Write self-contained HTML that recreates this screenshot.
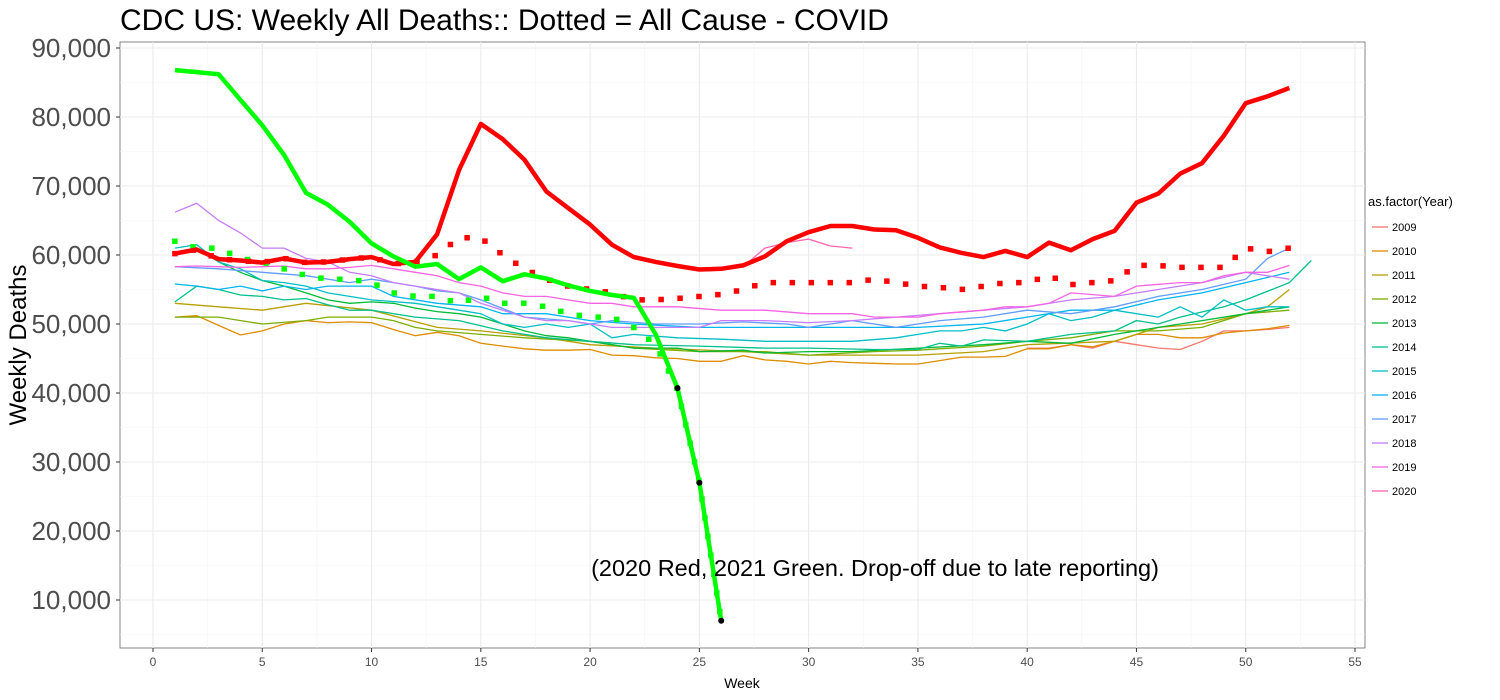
<!DOCTYPE html>
<html><head><meta charset="utf-8"><style>
body{margin:0;background:#fff;}
svg{display:block;font-family:"Liberation Sans",sans-serif;}
</style></head><body>
<svg id="chart" width="1500" height="700">
<text x="120" y="30" font-size="30" fill="#000">CDC US: Weekly All Deaths:: Dotted = All Cause - COVID</text>
<rect x="120" y="42" width="1245" height="606" fill="#fff" stroke="#666" stroke-width="0.8"/>
<g id="grid"></g>
<g id="series"></g>
<text x="26" y="345" font-size="24" transform="rotate(-90 26 345)" text-anchor="middle">Weekly Deaths</text>
<text x="742" y="688" font-size="14" text-anchor="middle">Week</text>
<text x="875" y="576" font-size="23.5" text-anchor="middle">(2020 Red, 2021 Green. Drop-off due to late reporting)</text>
<text x="1368" y="206" font-size="13">as.factor(Year)</text>
<g id="legend"></g>
</svg>
<script>
const yTicks=[10000,20000,30000,40000,50000,60000,70000,80000,90000];
const xTicks=[0,5,10,15,20,25,30,35,40,45,50,55];
const years=["2009","2010","2011","2012","2013","2014","2015","2016","2017","2018","2019","2020"];
const colors=["#F8766D","#DE8C00","#B79F00","#7CAE00","#00BA38","#00C08B","#00BFC4","#00B4F0","#619CFF","#C77CFF","#F564E3","#FF64B0"];
// [week, deaths] keypoints per year
const y2009=[[40,46500],[41,46500],[42,47000],[43,46500],[44,47500],[45,47000],[46,46500],[47,46300],[48,47500],[49,49000],[50,49000],[51,49200],[52,49500]];
const y2010=[[1,51000],[2,51200],[3,49800],[4,48400],[5,49000],[6,50000],[7,50500],[8,50200],[9,50300],[10,50200],[11,49200],[12,48300],[13,48800],[14,48300],[15,47200],[16,46800],[17,46400],[18,46200],[19,46200],[20,46300],[21,45500],[22,45400],[23,45100],[24,45000],[25,44600],[26,44600],[27,45400],[28,44800],[29,44600],[30,44200],[31,44600],[32,44400],[33,44300],[34,44200],[35,44200],[36,44700],[37,45200],[38,45200],[39,45300],[40,46400],[41,46400],[42,47000],[43,46700],[44,47500],[45,48500],[46,48500],[47,48000],[48,48000],[49,48700],[50,49000],[51,49300],[52,49800]];
const y2011=[[1,53000],[3,52500],[5,52000],[7,53000],[10,52000],[13,49500],[15,49000],[18,48000],[20,47000],[23,46500],[27,46000],[30,45500],[35,45500],[38,46000],[40,47000],[44,47500],[46,49500],[48,50000],[50,51500],[51,52500],[52,55000]];
const y2012=[[1,51000],[3,51000],[5,50000],[7,50500],[8,51000],[10,51000],[11,50500],[12,49500],[13,49000],[15,48500],[17,48000],[20,47500],[22,46500],[25,46000],[28,46000],[30,45500],[33,46000],[35,46200],[38,46800],[40,47500],[42,48000],[44,49000],[46,49000],[48,49500],[50,51500],[52,52000]];
const y2013=[[1,60000],[2,61000],[3,59000],[4,57500],[5,56300],[6,55500],[7,54500],[8,53500],[9,53000],[10,53200],[11,53000],[12,52300],[13,51800],[14,51500],[15,51000],[16,50000],[17,49000],[18,48300],[19,48000],[20,47500],[21,47000],[22,46500],[24,46500],[25,46000],[27,46200],[28,45800],[30,46000],[32,46000],[35,46500],[38,47000],[40,47500],[42,47200],[44,48500],[46,49500],[48,50500],[50,51500],[52,52500]];
const y2014=[[1,53200],[2,55500],[3,55000],[4,54200],[5,54000],[6,53500],[7,53700],[8,52800],[9,52000],[10,52000],[12,51000],[14,50500],[16,49000],[18,48000],[20,47500],[22,47000],[25,46800],[28,46500],[30,46500],[33,46300],[35,46300],[36,47200],[37,46800],[38,47700],[40,47500],[42,48500],[44,49000],[45,50500],[46,50000],[47,51000],[49,52500],[50,53500],[52,56000],[53,59200]];
const y2015=[[1,61000],[2,61500],[3,59000],[4,58000],[5,56300],[6,56000],[7,55500],[8,54500],[9,54000],[10,53500],[12,53000],[14,52000],[15,51500],[16,50000],[17,49500],[18,50000],[19,49500],[20,50000],[21,48000],[22,48500],[24,48000],[26,47800],[28,47500],[30,47500],[32,47500],[34,48000],[35,48500],[36,49000],[37,49000],[38,49500],[39,49000],[40,50000],[41,51500],[42,50500],[43,51000],[44,52000],[45,51500],[46,51000],[47,52500],[48,51000],[49,53500],[50,52000],[51,52500],[52,52500]];
const y2016=[[1,55800],[2,55500],[3,55000],[4,55500],[5,54800],[6,55500],[7,55000],[8,55500],[10,55500],[11,54000],[13,53000],[15,52500],[16,51500],[18,51500],[20,50500],[22,50000],[25,49500],[28,49500],[30,49500],[32,49500],[35,49500],[38,50000],[40,51000],[42,52000],[44,52000],[46,53500],[48,54500],[50,56000],[52,57500]];
const y2017=[[1,58300],[3,58000],[5,57500],[7,57000],[9,56000],[10,56500],[11,56000],[12,55500],[13,54800],[14,54500],[15,53500],[17,51000],[19,50500],[20,50000],[21,50500],[23,50000],[25,50000],[27,50300],[29,50000],[30,49500],[32,50500],[34,49500],[36,50500],[38,51000],[40,52000],[42,51500],[44,52500],[46,54000],[48,55000],[50,56500],[51,59500],[52,61000]];
const y2018=[[1,66200],[2,67500],[3,65000],[4,63200],[5,61000],[6,61000],[7,59500],[8,59000],[9,57500],[10,57000],[11,56000],[12,55500],[13,55000],[14,54500],[15,53000],[16,52000],[17,51000],[18,50500],[19,50500],[20,50000],[21,49500],[25,49500],[26,50500],[28,50500],[30,50200],[32,50500],[34,51000],[36,51500],[38,52000],[40,52500],[42,53500],[44,54000],[46,55000],[48,56000],[50,57500],[52,56500]];
const y2019=[[1,58300],[2,58400],[3,58300],[4,58200],[5,58300],[6,58400],[7,58000],[8,58000],[9,58200],[10,58500],[11,58000],[12,57500],[13,57000],[14,56000],[15,55500],[16,54500],[17,54000],[18,54000],[19,53500],[20,53000],[21,53000],[22,52500],[24,52500],[26,52000],[28,52000],[30,51500],[32,51500],[33,51000],[35,51000],[36,51500],[38,52000],[39,52500],[40,52500],[41,53000],[42,54500],[44,54000],[45,55500],[47,56000],[48,56000],[49,57000],[50,57500],[51,57500],[52,58500]];
const y2020thin=[[1,60000],[2,60600],[3,59200],[4,59000],[5,58700],[6,59300],[7,58700],[8,58800],[9,59200],[10,59500],[11,58500],[12,58800],[13,62800],[14,72000],[15,78800],[16,76600],[17,73600],[18,69000],[19,66600],[20,64200],[21,61300],[22,59500],[23,58800],[24,58200],[25,57700],[26,57800],[27,58300],[28,61000],[29,61800],[30,62300],[31,61300],[32,61000]];
const thinSeries=[y2009,y2010,y2011,y2012,y2013,y2014,y2015,y2016,y2017,y2018,y2019,y2020thin];
const red2020=[60200,60800,59400,59200,58900,59500,58900,59000,59400,59700,58700,59000,63000,72300,79000,76800,73800,69200,66800,64400,61500,59700,59000,58400,57900,58000,58500,59800,62000,63300,64200,64200,63700,63600,62500,61100,60300,59700,60600,59700,61800,60700,62300,63500,67600,68900,71800,73300,77300,82000,83000,84200];
const red2020exCovid=[60200,60800,59400,59200,58900,59500,58900,59000,59400,59700,58700,59000,60000,62500,62500,60000,58000,56500,55500,55000,54500,53500,53500,53700,54000,54300,55000,56000,56000,56000,56000,56000,56500,56000,55500,55300,55000,55500,56000,56000,57000,55700,56000,56300,58500,58500,58200,58200,58200,61000,60500,61000];
const green2021=[86800,86500,86200,82500,78800,74500,69000,67300,64800,61700,59800,58300,58700,56500,58200,56200,57200,56600,55600,54800,54200,53800,48500,40700,27000,7000];
const green2021exCovid=[62000,61000,61000,59500,59000,58000,57000,56500,56500,56000,54500,54000,54000,53000,54000,53000,53000,52500,51500,51000,51000,49500,47000,40500,27000,7000];

const X=w=>153+w*(1202/55);
const Y=v=>669-v*0.0069;
const NS="http://www.w3.org/2000/svg";
function mk(t,a,p){const e=document.createElementNS(NS,t);for(const k in a)e.setAttribute(k,a[k]);p.appendChild(e);return e;}
const svg=document.getElementById('chart'),grid=document.getElementById('grid'),ser=document.getElementById('series'),leg=document.getElementById('legend');
for(let i=0;i<yTicks.length;i++){const v=yTicks[i];
 let g=mk('line',{x1:120,x2:1365,y1:Y(v),y2:Y(v),stroke:'#ebebeb','stroke-width':1.1},grid);
 
 let m=mk('line',{x1:120,x2:1365,y1:Y(v-5000),y2:Y(v-5000),stroke:'#f3f3f3','stroke-width':0.6},grid);
 
 let t=mk('text',{x:111,y:Y(v)+9,'font-size':26,fill:'#4d4d4d','text-anchor':'end'},svg);
 t.textContent=v.toLocaleString('en-US');
 
 mk('line',{x1:116,x2:120,y1:Y(v),y2:Y(v),stroke:'#333'},svg);
}
for(let i=0;i<xTicks.length;i++){const w=xTicks[i];
 let g=mk('line',{x1:X(w),x2:X(w),y1:42,y2:648,stroke:'#ebebeb','stroke-width':1.1},grid);
 
 if(w>0){let m=mk('line',{x1:X(w-2.5),x2:X(w-2.5),y1:42,y2:648,stroke:'#f3f3f3','stroke-width':0.6},grid);
 }
 let t=mk('text',{x:X(w),y:666,'font-size':12,fill:'#4d4d4d','text-anchor':'middle'},svg);
 t.textContent=w;
 
 mk('line',{x1:X(w),x2:X(w),y1:648,y2:652,stroke:'#333'},svg);
}
for(let i=0;i<thinSeries.length;i++){
 const pts=thinSeries[i].map(p=>X(p[0]).toFixed(1)+','+Y(p[1]).toFixed(1)).join(' ');
 const l=mk('polyline',{points:pts,fill:'none',stroke:colors[i],'stroke-width':1.3},ser);
 
 const e=mk('line',{x1:1372,x2:1388,y1:227+i*24,y2:227+i*24,stroke:colors[i],'stroke-width':1.3},leg);
 
 const t=mk('text',{x:1392,y:231+i*24,'font-size':11},leg);t.textContent=years[i];
 
}
function arr(vals){return vals.map((v,i)=>X(i+1).toFixed(1)+','+Y(v).toFixed(1)).join(' ');}
let a=mk('polyline',{points:arr(red2020exCovid),fill:'none',stroke:'#f00','stroke-width':5.5,'stroke-dasharray':'0 19','stroke-linecap':'square'},ser);

let b=mk('polyline',{points:arr(green2021exCovid),fill:'none',stroke:'#0f0','stroke-width':5.5,'stroke-dasharray':'0 19','stroke-linecap':'square'},ser);

let c=mk('polyline',{points:arr(red2020),fill:'none',stroke:'#f00','stroke-width':4.5,'stroke-linejoin':'round'},ser);

let d=mk('polyline',{points:arr(green2021),fill:'none',stroke:'#0f0','stroke-width':4.5,'stroke-linejoin':'round'},ser);

for(let i=23;i<green2021.length;i++){
 const p=mk('circle',{cx:X(i+1),cy:Y(green2021[i]),r:3,fill:'#000'},ser);
 
}
</script>
</body></html>
